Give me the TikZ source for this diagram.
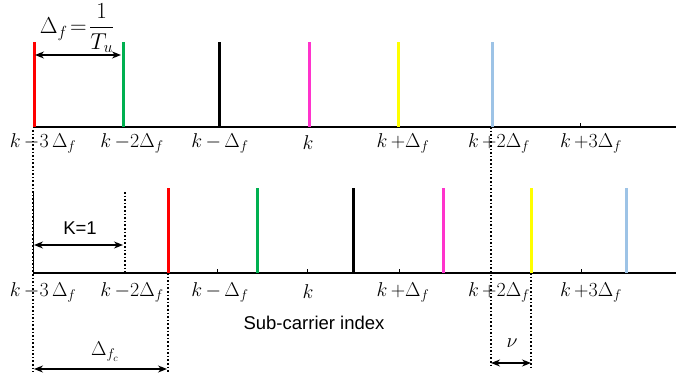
\documentclass[tikz,border=0pt]{standalone}
\usepackage{fix-cm}
\usepackage{amsmath}
\usepackage{fontspec}
\setsansfont{Liberation Sans}
\usetikzlibrary{arrows.meta}
\definecolor{sgreen}{RGB}{0,176,80}
\definecolor{smag}{RGB}{255,51,204}
\definecolor{syel}{RGB}{255,255,0}
\definecolor{sblue}{RGB}{157,195,230}
\tikzset{
  axisline/.style={line width=1.3pt},
  spike/.style={line width=3pt},
  dotline/.style={dotted, line width=1.6pt},
  tickmark/.style={line width=0.8pt},
  dim/.style={{Stealth[length=9pt,width=7pt]}-{Stealth[length=9pt,width=7pt]}, line width=1.4pt},
  mlab/.style={inner sep=0pt, font=\fontsize{20}{24}\selectfont},
  flab/.style={inner sep=0pt, font=\fontsize{23}{27}\selectfont},
  slab/.style={inner sep=0pt, font=\sffamily\fontsize{18.5}{22}\selectfont},
}
\begin{document}
\begin{tikzpicture}[x=1pt,y=-1pt]
\useasboundingbox (0,0) rectangle (676,382);
% axes
\coordinate (tA) at (33,127); \coordinate (tB) at (676,127);
\coordinate (bA) at (33,273); \coordinate (bB) at (676,273);
\draw[axisline] (tA) -- (tB);
\draw[axisline] (bA) -- (bB);
% top spikes
\foreach \x/\c/\n in {34/red/1,123/sgreen/2,219/black/3,309/smag/4,398/syel/5,492/sblue/6}{
  \coordinate (ts\n) at (\x,127);
  \coordinate (tt\n) at (\x,42);
  \draw[spike,\c] (ts\n) -- (tt\n);
}
\coordinate (ttk3) at (580,127); \coordinate (ttk3u) at (580,123);
\draw[tickmark] (ttk3) -- (ttk3u);
% bottom spikes
\foreach \x/\c/\n in {168/red/1,257/sgreen/2,353/black/3,443/smag/4,531/syel/5,626/sblue/6}{
  \coordinate (bs\n) at (\x,273);
  \coordinate (bt\n) at (\x,188);
  \draw[spike,\c] (bs\n) -- (bt\n);
}
\foreach \x/\n in {217/1,307/2,399/3,581/4}{
  \coordinate (bk\n) at (\x,273); \coordinate (bku\n) at (\x,269);
  \draw[tickmark] (bk\n) -- (bku\n);
}
% thin line at k-3
\coordinate (z0) at (33,192); \coordinate (z1) at (33,273);
\draw[line width=0.6pt] (z0) -- (z1);
% dotted lines
\coordinate (d1a) at (33,130); \coordinate (d1b) at (33,372);
\draw[dotline] (d1a) -- (d1b);
\coordinate (d2a) at (125,192); \coordinate (d2b) at (125,273);
\draw[dotline] (d2a) -- (d2b);
\coordinate (d3a) at (168,273); \coordinate (d3b) at (168,372);
\draw[dotline] (d3a) -- (d3b);
\coordinate (d4a) at (491,127); \coordinate (d4b) at (491,367);
\draw[dotline] (d4a) -- (d4b);
\coordinate (d5a) at (531,273); \coordinate (d5b) at (531,367);
\draw[dotline] (d5a) -- (d5b);
% dimension arrows
\coordinate (a1) at (35,55); \coordinate (a2) at (121,55);
\draw[dim] (a1) -- (a2);
\coordinate (k1) at (34,245); \coordinate (k2) at (123,245);
\draw[dim] (k1) -- (k2);
\coordinate (c1) at (34,369); \coordinate (c2) at (167,369);
\draw[dim] (c1) -- (c2);
\coordinate (n1) at (491,363); \coordinate (n2) at (531,363);
\draw[dim] (n1) -- (n2);
% labels
\node[flab] (ldf) at (77,28) {$\Delta_f\!=\!\dfrac{1}{T_u}$};
\node[slab] (lk1) at (80,228) {K=1};
\node[mlab] (ldfc) at (105,352) {$\Delta_{f_c}$};
\node[mlab] (lnu) at (512,343) {$\nu$};
\node[slab] (lsub) at (314,323) {Sub-carrier index};
\foreach \y/\r in {143/t,292/b}{
  \node[mlab] (l1\r) at (43,\y) {$k\,{-}3\,\Delta_f$};
  \node[mlab] (l2\r) at (132,\y) {$k\,{-}2\Delta_f$};
  \node[mlab] (l3\r) at (220,\y) {$k\,{-}\,\Delta_f$};
  \node[mlab] (l4\r) at (308,\y) {$k$};
  \node[mlab] (l5\r) at (403,\y) {$k\,{+}\Delta_f$};
  \node[mlab] (l6\r) at (499,\y) {$k\,{+}2\Delta_f$};
  \node[mlab] (l7\r) at (591,\y) {$k\,{+}3\Delta_f$};
}
\end{tikzpicture}
\end{document}
